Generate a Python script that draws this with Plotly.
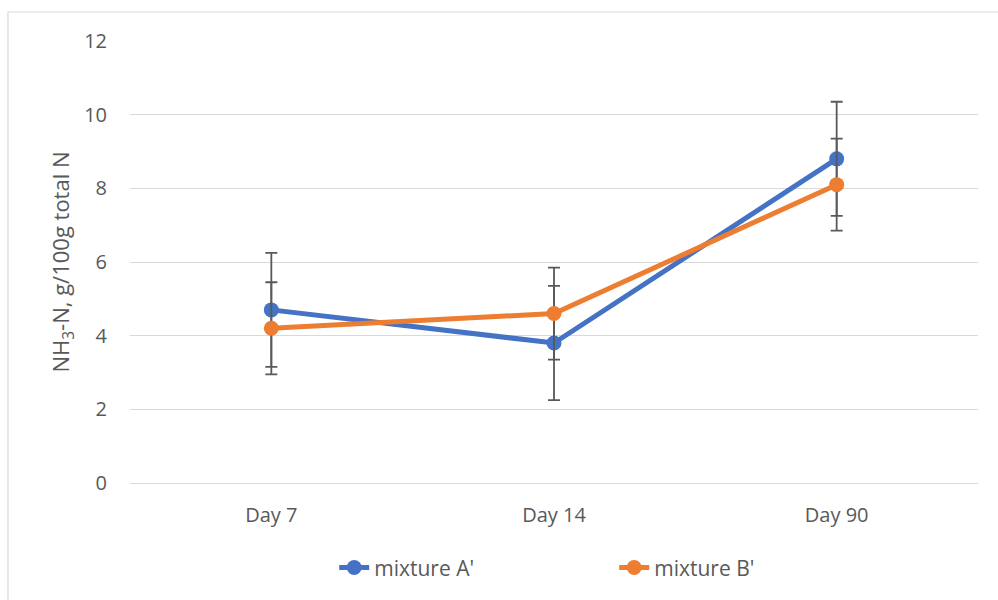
import plotly.graph_objects as go

days = ["Day 7", "Day 14", "Day 90"]
mixture_a = [4.7, 3.8, 8.8]
mixture_b = [4.2, 4.6, 8.1]
err_a = [1.55, 1.55, 1.55]
err_b = [1.25, 1.25, 1.25]
y_ticks = [0, 2, 4, 6, 8, 10, 12]

BLUE = "#4472C4"
ORANGE = "#ED7D31"
ERR = "#595959"
FONT = "Open Sans, Liberation Sans, sans-serif"

fig = go.Figure()
for name, vals, errs, color in [
    ("mixture A'", mixture_a, err_a, BLUE),
    ("mixture B'", mixture_b, err_b, ORANGE),
]:
    fig.add_trace(go.Scatter(
        x=days, y=vals, name=name, mode="lines+markers",
        line=dict(color=color, width=5),
        marker=dict(color=color, size=15),
        error_y=dict(type="data", array=errs, visible=True,
                     color=ERR, thickness=1.8, width=6),
    ))

fig.update_layout(
    width=998, height=600,
    margin=dict(l=130, r=20, t=41, b=117),
    paper_bgcolor="white", plot_bgcolor="white",
    font=dict(family=FONT, color=ERR, size=20),
    showlegend=True,
    legend=dict(orientation="h", x=0.571, xanchor="center", y=-0.192, yanchor="middle",
                font=dict(size=21, color=ERR), entrywidth=235, entrywidthmode="pixels",
                traceorder="normal"),
    xaxis=dict(range=[-0.5, 2.5], showgrid=False, zeroline=False, showline=False,
               ticks="", ticklabelstandoff=18, tickfont=dict(size=20, color=ERR)),
    yaxis=dict(range=[0, 12], tickvals=y_ticks, showgrid=True, gridcolor="#D9D9D9",
               gridwidth=1, zeroline=True, zerolinecolor="#D9D9D9", zerolinewidth=1,
               showline=False, ticks="", ticklabelstandoff=22,
               tickfont=dict(size=20, color=ERR),
               title=dict(text="NH<sub>3</sub>-N, g/100g total N", standoff=8,
                          font=dict(size=22, color=ERR))),
    shapes=[dict(type="rect", xref="paper", yref="paper",
                 x0=-0.1439, x1=1.2, y0=-0.5, y1=1.0656,
                 line=dict(color="#D9D9D9", width=1.2), layer="below")],
)

fig.write_html("out.html")
